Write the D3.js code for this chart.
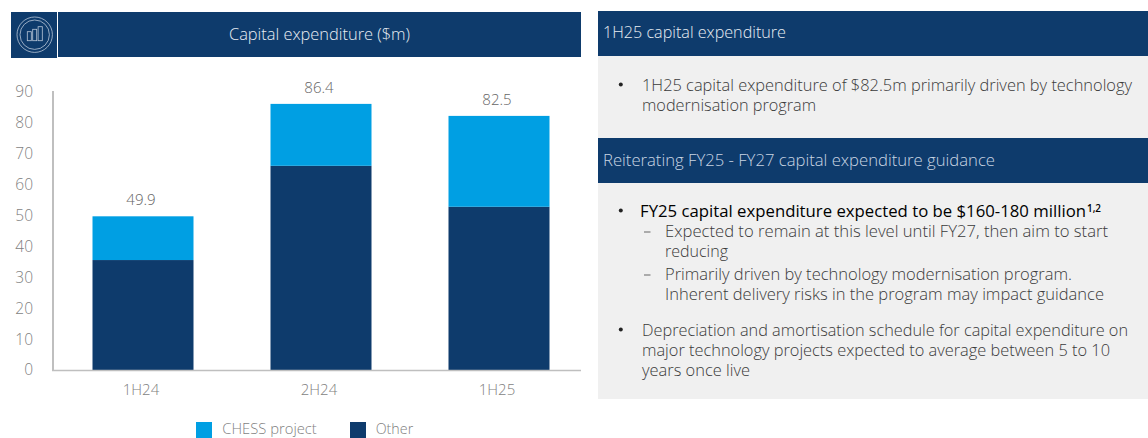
<!DOCTYPE html>
<html>
<head>
<meta charset="utf-8">
<script src="https://cdn.jsdelivr.net/npm/d3@7/dist/d3.min.js"></script>
<style>
  html, body { margin: 0; padding: 0; background: #fff; }
  svg { display: block; }
  text { font-family: "Open Sans", sans-serif; font-weight: 300; }
</style>
</head>
<body>
<div id="chart"></div>
<script>
"use strict";

// Chart data
var categories = ["1H24", "2H24", "1H25"];
var chessProject = [14.2, 20.1, 29.5];
var other = [35.7, 66.3, 53.0];
var totals = ["49.9", "86.4", "82.5"];
var yTicks = [0, 10, 20, 30, 40, 50, 60, 70, 80, 90];
var legendLabels = ["CHESS project", "Other"];

var chartTitle = "Capital expenditure ($m)";
var headerOne = "1H25 capital expenditure";
var headerTwo = "Reiterating FY25 - FY27 capital expenditure guidance";
var bulletOne = ["1H25 capital expenditure of $82.5m primarily driven by technology", "modernisation program"];
var boldBullet = "FY25 capital expenditure expected to be $160-180 million";
var boldNote = "1,2";
var subOne = ["Expected to remain at this level until FY27, then aim to start", "reducing"];
var subTwo = ["Primarily driven by technology modernisation program.", "Inherent delivery risks in the program may impact guidance"];
var bulletTwo = ["Depreciation and amortisation schedule for capital expenditure on", "major technology projects expected to average between 5 to 10", "years once live"];

var navy = "#0e3b6c", cyan = "#009fe3", grey = "#7f7f7f", body = "#3a3a3a";

var svg = d3.select("#chart").append("svg")
  .attr("width", 1148)
  .attr("height", 438);

// squeeze a text into the width it has in the reference
function fit(sel, w) {
  return sel.attr("textLength", w).attr("lengthAdjust", "spacingAndGlyphs");
}

// Left header with icon
svg.append("rect").attr("x", 11).attr("y", 12).attr("width", 46).attr("height", 46).attr("fill", navy);
svg.append("rect").attr("x", 58).attr("y", 12).attr("width", 523).attr("height", 45).attr("fill", navy);
var icon = svg.append("g").attr("transform", "translate(34.7,34.7)")
  .attr("fill", "none").attr("stroke", "#b9c7d8").attr("stroke-width", 0.8);
icon.append("circle").attr("r", 17.7);
icon.append("circle").attr("r", 14.7);
icon.append("rect").attr("x", -7.4).attr("y", -3).attr("width", 4).attr("height", 9);
icon.append("rect").attr("x", -2).attr("y", -5.4).attr("width", 4).attr("height", 11.4);
icon.append("rect").attr("x", 3.4).attr("y", -8).attr("width", 4.2).attr("height", 14);

fit(svg.append("text").attr("x", 229).attr("y", 40)
  .attr("font-size", 16).attr("fill", "#e8edf3")
  .text(chartTitle), 181);

// Scales
var x = d3.scaleBand().domain(categories).range([54, 588]).paddingInner(0.4326).paddingOuter(0.2163);
var y = d3.scaleLinear().domain([0, 90]).range([370, 92.8]);
// the printed axis labels sit a little wider apart than the bars' own scale
var yLabels = d3.scaleLinear().domain([0, 90]).range([370, 91.5]);

var stacked = categories.map(function (c, i) {
  return { cat: c, other: other[i], chess: chessProject[i], total: totals[i] };
});

// Bars
svg.selectAll(".other").data(stacked).enter().append("rect")
  .attr("class", "other")
  .attr("x", function (d) { return x(d.cat); })
  .attr("width", x.bandwidth())
  .attr("y", function (d) { return y(d.other); })
  .attr("height", function (d) { return y(0) - y(d.other); })
  .attr("fill", navy);

svg.selectAll(".chess").data(stacked).enter().append("rect")
  .attr("class", "chess")
  .attr("x", function (d) { return x(d.cat); })
  .attr("width", x.bandwidth())
  .attr("y", function (d) { return y(d.other + d.chess); })
  .attr("height", function (d) { return y(0) - y(d.chess); })
  .attr("fill", cyan);

// Totals above the bars
svg.selectAll(".total").data(stacked).enter().append("text")
  .attr("class", "total")
  .attr("x", function (d) { return x(d.cat) + x.bandwidth() / 2 - 2; })
  .attr("y", function (d) { return y(d.other + d.chess) - 11; })
  .attr("text-anchor", "middle")
  .attr("font-size", 15)
  .attr("fill", "#666")
  .text(function (d) { return d.total; });

// Axes
var yAxis = d3.axisLeft(yLabels).tickValues(yTicks).tickSize(0).tickPadding(20);
var yG = svg.append("g").attr("transform", "translate(53,0)").call(yAxis);
yG.select(".domain").remove();
yG.selectAll("text").attr("font-size", 15.5).attr("fill", grey).attr("font-family", null);
svg.append("line").attr("x1", 53).attr("x2", 53).attr("y1", 91).attr("y2", 371)
  .attr("stroke", "#bfbfbf").attr("stroke-width", 2);
svg.append("line").attr("x1", 52).attr("x2", 581).attr("y1", 370.5).attr("y2", 370.5)
  .attr("stroke", "#bfbfbf").attr("stroke-width", 1.5);

var xAxis = d3.axisBottom(x).tickSize(0).tickPadding(14);
var xG = svg.append("g").attr("transform", "translate(-2,370)").call(xAxis);
xG.select(".domain").remove();
xG.selectAll("text").attr("font-size", 15).attr("fill", grey).attr("font-family", null);

// Legend
var legendX = [196, 350];
var legendColours = [cyan, navy];
var legendTextX = [222.3, 375.7];
var legendWidths = [94.5, 37.5];
legendLabels.forEach(function (label, i) {
  svg.append("rect").attr("x", legendX[i]).attr("y", 422).attr("width", 16).attr("height", 16).attr("fill", legendColours[i]);
  fit(svg.append("text").attr("x", legendTextX[i]).attr("y", 433.5).attr("font-size", 15).attr("fill", grey)
    .text(label), legendWidths[i]);
});

// Right panels
svg.append("rect").attr("x", 598).attr("y", 56).attr("width", 550).attr("height", 343).attr("fill", "#f0f0f0");
svg.append("rect").attr("x", 598).attr("y", 11).attr("width", 550).attr("height", 45).attr("fill", navy);
svg.append("rect").attr("x", 598).attr("y", 138).attr("width", 550).attr("height", 45).attr("fill", navy);

function line(txt, px, py, w, opts) {
  opts = opts || {};
  return fit(svg.append("text").attr("x", px).attr("y", py)
    .attr("font-size", opts.size || 15.5)
    .attr("fill", opts.fill || body)
    .style("font-weight", opts.weight || null)
    .text(txt), w);
}

function bullet(py) {
  svg.append("circle").attr("cx", 620.8).attr("cy", py - 6.5).attr("r", 2).attr("fill", "#222");
}

function dash(py) {
  svg.append("line").attr("x1", 644).attr("x2", 650.5).attr("y1", py - 5).attr("y2", py - 5)
    .attr("stroke", "#666").attr("stroke-width", 1);
}

line(headerOne, 603, 38, 183, { fill: "#e8edf3" });
line(headerTwo, 603, 166, 392, { fill: "#c9d5e3" });

bullet(91);
line(bulletOne[0], 642, 91, 490);
line(bulletOne[1], 642, 111, 174);

bullet(217);
line(boldBullet, 640, 217, 446, { fill: "#000", weight: 400 });
line(boldNote, 1087, 212, 14, { fill: "#000", weight: 600, size: 10.5 });

dash(237);
line(subOne[0], 665, 237, 443);
line(subOne[1], 665, 257, 63);
dash(280);
line(subTwo[0], 665, 280, 407);
line(subTwo[1], 665, 300, 439);

bullet(336);
line(bulletTwo[0], 642, 336, 486);
line(bulletTwo[1], 642, 356, 468);
line(bulletTwo[2], 642, 376, 108);
</script>
</body>
</html>
